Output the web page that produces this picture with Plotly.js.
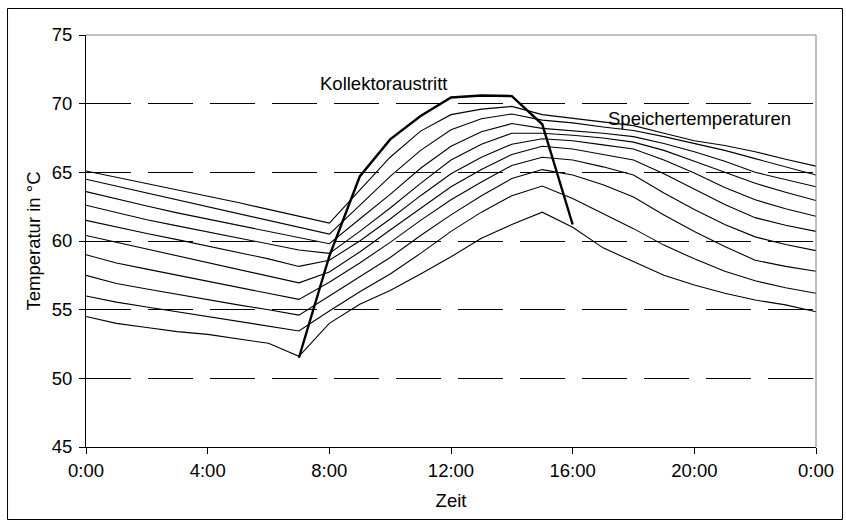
<!DOCTYPE html>
<html>
<head>
<meta charset="utf-8">
<script src="https://cdn.plot.ly/plotly-3.0.1.min.js"></script>
<style>html,body{margin:0;padding:0;background:#fff;}#chart{width:846px;height:527px;}</style>
</head>
<body>
<div id="chart"></div>
<script>
// Hours of the day (x values) and tick labels
const hours = [0,1,2,3,4,5,6,7,8,9,10,11,12,13,14,15,16,17,18,19,20,21,22,23,24];
const tickHours = [0,4,8,12,16,20,24];
const tickLabels = ['0:00','4:00','8:00','12:00','16:00','20:00','0:00'];
const yTicks = [45,50,55,60,65,70,75];

// Storage tank layer temperatures (Speichertemperaturen), top layer first
const layer1  = [65.1,64.65,64.2,63.75,63.3,62.8,62.3,61.8,61.3,63.7,66.1,68.0,69.2,69.6,69.8,69.2,68.95,68.7,68.4,67.85,67.3,66.95,66.5,65.95,65.45];
const layer2  = [64.5,64.0,63.5,63.0,62.5,62.0,61.5,61.0,60.5,62.6,64.7,66.6,68.1,68.9,69.25,68.8,68.6,68.3,68.05,67.6,67.1,66.6,66.0,65.4,64.8];
const layer3  = [63.6,63.05,62.55,62.05,61.6,61.15,60.7,60.25,59.8,61.6,63.4,65.3,66.9,67.95,68.55,68.2,68.05,67.85,67.6,67.1,66.5,65.8,65.0,64.45,63.95];
const layer4  = [62.6,62.05,61.55,61.1,60.65,60.2,59.75,59.35,59.1,60.7,62.4,64.2,65.9,67.05,67.85,67.85,67.7,67.5,67.2,66.6,65.8,65.0,64.2,63.55,62.95];
const layer5  = [61.5,61.0,60.55,60.1,59.65,59.2,58.7,58.15,58.6,60.0,61.6,63.3,64.9,66.1,67.05,67.45,67.3,67.0,66.7,65.9,64.95,63.9,63.0,62.35,61.8];
const layer6  = [60.4,59.9,59.4,58.9,58.45,57.95,57.45,56.95,57.75,59.2,60.8,62.4,63.95,65.2,66.3,66.9,66.7,66.3,65.9,64.9,63.75,62.65,61.7,61.15,60.7];
const layer7  = [59.0,58.4,57.95,57.5,57.1,56.65,56.2,55.75,57.0,58.4,59.9,61.5,63.0,64.3,65.5,66.1,65.9,65.4,64.8,63.5,62.3,61.2,60.3,59.75,59.3];
const layer8  = [57.5,56.9,56.5,56.1,55.75,55.35,55.0,54.6,56.0,57.4,58.8,60.4,61.9,63.3,64.55,65.2,64.8,64.1,63.2,61.9,60.7,59.6,58.6,58.15,57.8];
const layer9  = [56.0,55.55,55.2,54.85,54.5,54.15,53.8,53.45,54.9,56.3,57.6,59.1,60.7,62.1,63.3,64.0,63.1,62.0,60.9,59.7,58.7,57.8,57.1,56.6,56.2];
const layer10 = [54.5,54.0,53.7,53.4,53.2,52.9,52.55,51.6,54.0,55.4,56.4,57.6,58.85,60.2,61.2,62.1,61.0,59.5,58.5,57.5,56.8,56.2,55.7,55.35,54.85];

// Collector outlet temperature (Kollektoraustritt)
const collectorHours = [7,8,9,10,11,12,13,14,15,16];
const collector = [51.5,58.9,64.7,67.4,69.1,70.45,70.6,70.55,68.5,61.2];

const layers = [layer1,layer2,layer3,layer4,layer5,layer6,layer7,layer8,layer9,layer10];
const FONT = '"Liberation Sans", Arial, sans-serif';
const FS = 18.5;

const traces = layers.map((v, i) => ({
  x: hours, y: v, type: 'scatter', mode: 'lines',
  line: {color: '#000', width: 1.1}, name: 'Speicher ' + (i + 1),
  hoverinfo: 'x+y'
}));
traces.push({
  x: collectorHours, y: collector, type: 'scatter', mode: 'lines',
  line: {color: '#000', width: 2.4}, name: 'Kollektoraustritt'
});

const layout = {
  width: 846, height: 527,
  margin: {l: 86, r: 30, t: 35, b: 80, pad: 0},
  paper_bgcolor: '#fff', plot_bgcolor: '#fff',
  showlegend: false,
  font: {family: FONT, size: FS, color: '#000'},
  xaxis: {
    range: [0, 24], tickmode: 'array', tickvals: tickHours, ticktext: tickLabels,
    showline: true, linecolor: '#000', linewidth: 1,
    ticks: 'outside', ticklen: 6, tickcolor: '#000', tickwidth: 1,
    ticklabelstandoff: 1,
    showgrid: false, zeroline: false,
    tickfont: {family: FONT, size: FS, color: '#000'},
    title: {text: 'Zeit', font: {family: FONT, size: FS, color: '#000'}, standoff: 13}
  },
  yaxis: {
    range: [45, 75], tickmode: 'array', tickvals: yTicks,
    showline: true, linecolor: '#000', linewidth: 1,
    ticks: 'outside', ticklen: 6, tickcolor: '#000', tickwidth: 1,
    ticklabelstandoff: 3,
    showgrid: true, gridcolor: '#000', gridwidth: 1, griddash: '45px,17px',
    zeroline: false,
    tickfont: {family: FONT, size: FS, color: '#000'},
    title: {text: 'Temperatur in °C', font: {family: FONT, size: FS, color: '#000'}, standoff: 6}
  },
  shapes: [
    {type: 'line', xref: 'paper', yref: 'paper', x0: 0, x1: 1, y0: 1, y1: 1, line: {color: '#808080', width: 1}, layer: 'above'},
    {type: 'line', xref: 'paper', yref: 'paper', x0: 1, x1: 1, y0: 0, y1: 1, line: {color: '#808080', width: 1}, layer: 'above'},
    {type: 'rect', xref: 'paper', yref: 'paper', x0: -0.1075, x1: 1.0363, y0: -0.176, y1: 1.0643, line: {color: '#000', width: 1}, fillcolor: 'rgba(0,0,0,0)', layer: 'above'}
  ],
  annotations: [
    {x: 9.8, y: 71.45, xref: 'x', yref: 'y', text: 'Kollektoraustritt', showarrow: false, font: {family: FONT, size: FS, color: '#000'}},
    {x: 20.18, y: 68.94, xref: 'x', yref: 'y', text: 'Speichertemperaturen', showarrow: false, font: {family: FONT, size: FS, color: '#000'}}
  ]
};

Plotly.newPlot('chart', traces, layout, {staticPlot: true, displayModeBar: false});
</script>
</body>
</html>
